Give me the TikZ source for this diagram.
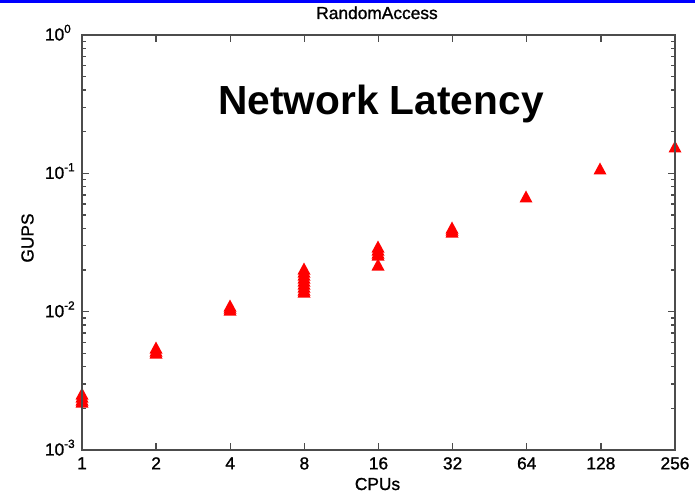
\documentclass[tikz,border=0pt]{standalone}
\usepackage{fontspec}
\setmainfont{Liberation Sans}
\newfontfamily\plotfont{Liberation Sans}[FakeBold=1.2]

\tikzset{
  axisline/.style={draw=black!70, line width=1.1pt},
  ticklbl/.style={inner sep=0pt, font=\plotfont\fontsize{13}{15}\selectfont},
  gupsmark/.style={fill=red},
}
% exponent hung after the "10" of a tick label
\newcommand\tickexp[1]{\rlap{\raisebox{5.7pt}{\fontsize{8.8}{9}\selectfont #1}}}

\begin{document}
\begin{tikzpicture}[x=0.75pt,y=0.75pt,yscale=-1,xscale=1]
\useasboundingbox (0,0) rectangle (695,495);
\fill[white] (0,0) rectangle (695,495);

%Blue bar along the top
\fill[blue] (0,0) rectangle (695,3);

%Markers, one column per CPU count
\foreach \x/\y in {82/394,82/397,82/400,82/402,
                   156/348,156/351,156/353,
                   230/306,230/308,230/310,
                   304/269,304/272,304/275,304/278,304/281,304/284,304/287,304/290,304/292,
                   378/247,378/250,378/253,378/255,378/265,
                   452/228,452/230,452/232,
                   526/197,
                   600/169,
                   675/147}
  \fill[gupsmark] (\x-6.5,\y+5.5) -- (\x,\y-6.5) -- (\x+6.5,\y+5.5) -- cycle;

%Axes box
\draw[axisline] (82,35) rectangle (675,450);
%x ticks, bottom and top
\foreach \i in {1,...,7} {
  \draw[axisline] ({82+74.125*\i},450) -- ++(0,-7);
  \draw[axisline] ({82+74.125*\i},35) -- ++(0,7);
}
%y ticks, major
\foreach \i in {1,2} {
  \draw[axisline] (82,{35+138.33*\i}) -- ++(7,0);
  \draw[axisline] (675,{35+138.33*\i}) -- ++(-7,0);
}
%y ticks, minor
\foreach \d in {0,1,2}
  \foreach \k in {2,...,9} {
    \pgfmathsetmacro\yy{450-138.33*(\d+log10(\k))}
    \draw[axisline] (82,\yy) -- ++(4,0);
    \draw[axisline] (675,\yy) -- ++(-4,0);
  }

% Tick labels
\foreach \i/\lbl in {0/1,1/2,2/4,3/8,4/16,5/32,6/64,7/128,8/256}
  \node[ticklbl, anchor=north] (xt\i) at ({82+74.125*\i},457) {\lbl};
\foreach \i/\e in {0/0,1/-1,2/-2,3/-3}
  \node[ticklbl, anchor=base east] (yt\i) at (64.5,{35+138.33*\i+5.5}) {10\tickexp{\e}};

% Text Node
\node[ticklbl, anchor=base] (title) at (377,19) {RandomAccess};
% Text Node
\node[ticklbl, anchor=base] (xlabel) at (377.5,490) {CPUs};
% Text Node
\node[ticklbl, anchor=base, rotate=90] (ylabel) at (33.5,238) {GUPS};
% Text Node
\node[inner sep=0pt, anchor=base, font=\fontsize{30.5}{36}\selectfont\bfseries] (tag) at (381,114.3) {Network Latency};

\end{tikzpicture}
\end{document}
